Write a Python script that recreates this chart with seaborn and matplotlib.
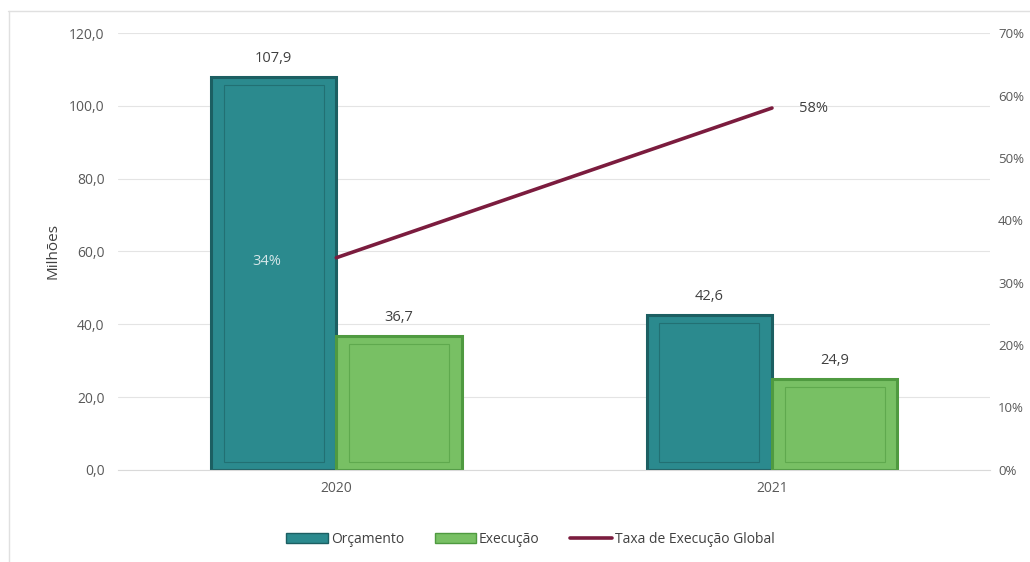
import numpy as np
import pandas as pd
import seaborn as sns
from matplotlib import pyplot as plt
from matplotlib.patches import Patch, Rectangle
from matplotlib.lines import Line2D
from matplotlib.ticker import FuncFormatter

# === DATA ===
anos = ['2020', '2021']
orcamento = [107.9, 42.6]
execucao = [36.7, 24.9]
taxa = [0.34, 0.58]
series = ['Orçamento', 'Execução']
line_label = 'Taxa de Execução Global'

TEAL = '#2b8a8e'
TEAL_EDGE = '#1c5f62'
GREEN = '#78c064'
GREEN_EDGE = '#4f9a40'
WINE = '#7b1c3e'
GREY = '#595959'

df = pd.DataFrame({
    'ano': anos * 2,
    'serie': [series[0]] * len(anos) + [series[1]] * len(anos),
    'valor': orcamento + execucao,
})

# === PLOT ===
sns.set_style('white')
plt.rcParams['font.family'] = ['Open Sans', 'DejaVu Sans']

fig = plt.figure(figsize=(10.3, 5.62), dpi=100)
ax = fig.add_axes([0.115, 0.164, 0.846, 0.777])

sns.barplot(data=df, x='ano', y='valor', hue='serie', hue_order=series,
            palette=[TEAL, GREEN], width=0.575, gap=0, ax=ax,
            legend=False, saturation=1)

edges = [TEAL_EDGE, GREEN_EDGE]
for cont, ec in zip(ax.containers, edges):
    for bar in cont:
        bar.set_edgecolor(ec)
        bar.set_linewidth(2.2)
        # inner bevel line
        x0, y0 = bar.get_x(), bar.get_y()
        w, h = bar.get_width(), bar.get_height()
        ix, iy = w * 0.1, 2.2
        ax.add_patch(Rectangle((x0 + ix, y0 + iy), w - 2 * ix, h - 2 * iy,
                               facecolor='none', edgecolor=ec, linewidth=0.8,
                               alpha=0.6, zorder=bar.get_zorder() + 0.1))
    ax.bar_label(cont, labels=[f'{v:.1f}'.replace('.', ',') for v in cont.datavalues],
                 padding=8, fontsize=10.5, color='#404040')

ax.set_ylim(0, 120)
ax.set_xlim(-0.5, 1.5)
ax.set_yticks(np.arange(0, 121, 20))
ax.yaxis.set_major_formatter(FuncFormatter(lambda v, _: f'{v:.1f}'.replace('.', ',')))
ax.grid(axis='y', color='#e4e4e4', linewidth=0.8)
ax.set_axisbelow(True)
for s in ['top', 'right', 'left']:
    ax.spines[s].set_visible(False)
ax.spines['bottom'].set_color('#d9d9d9')
ax.tick_params(axis='both', length=0, labelsize=10, colors=GREY, pad=10)
ax.tick_params(axis='x', pad=8)
ax.set_xlabel('')
ax.set_ylabel('Milhões', fontsize=11, color='#404040', labelpad=6)

ax2 = ax.twinx()
sns.lineplot(x=np.arange(len(anos)), y=taxa, ax=ax2, color=WINE, linewidth=2.6)
ax2.set_ylim(0, 0.7)
ax2.set_yticks(np.arange(0, 0.71, 0.1))
ax2.yaxis.set_major_formatter(FuncFormatter(lambda v, _: f'{v * 100:.0f}%'))
ax2.tick_params(axis='y', length=0, labelsize=9.5, colors=GREY, pad=6)
for s in ax2.spines.values():
    s.set_visible(False)
ax2.grid(False)

ax2.annotate(f'{taxa[0] * 100:.0f}%', (0, taxa[0]), xytext=(-50, -3),
             textcoords='offset points', ha='center', va='center',
             fontsize=10.5, color='#d5e6e8')
ax2.annotate(f'{taxa[1] * 100:.0f}%', (1, taxa[1]), xytext=(30, 0),
             textcoords='offset points', ha='center', va='center',
             fontsize=10.5, color='#404040')

handles = [Patch(facecolor=TEAL, edgecolor=TEAL_EDGE),
           Patch(facecolor=GREEN, edgecolor=GREEN_EDGE),
           Line2D([], [], color=WINE, linewidth=2.6)]
fig.legend(handles, series + [line_label], loc='center', ncol=3,
           bbox_to_anchor=(0.515, 0.04), frameon=False, fontsize=10,
           handlelength=3, handletextpad=0.2, columnspacing=2.2,
           labelcolor='#404040')

# faint outer frame (top/left)
fig.add_artist(Line2D([0.008, 1.0], [0.981, 0.981], color='#e0e0e0', linewidth=1))
fig.add_artist(Line2D([0.009, 0.009], [0.0, 0.981], color='#e0e0e0', linewidth=1))

fig.savefig('out.png', dpi=100)
